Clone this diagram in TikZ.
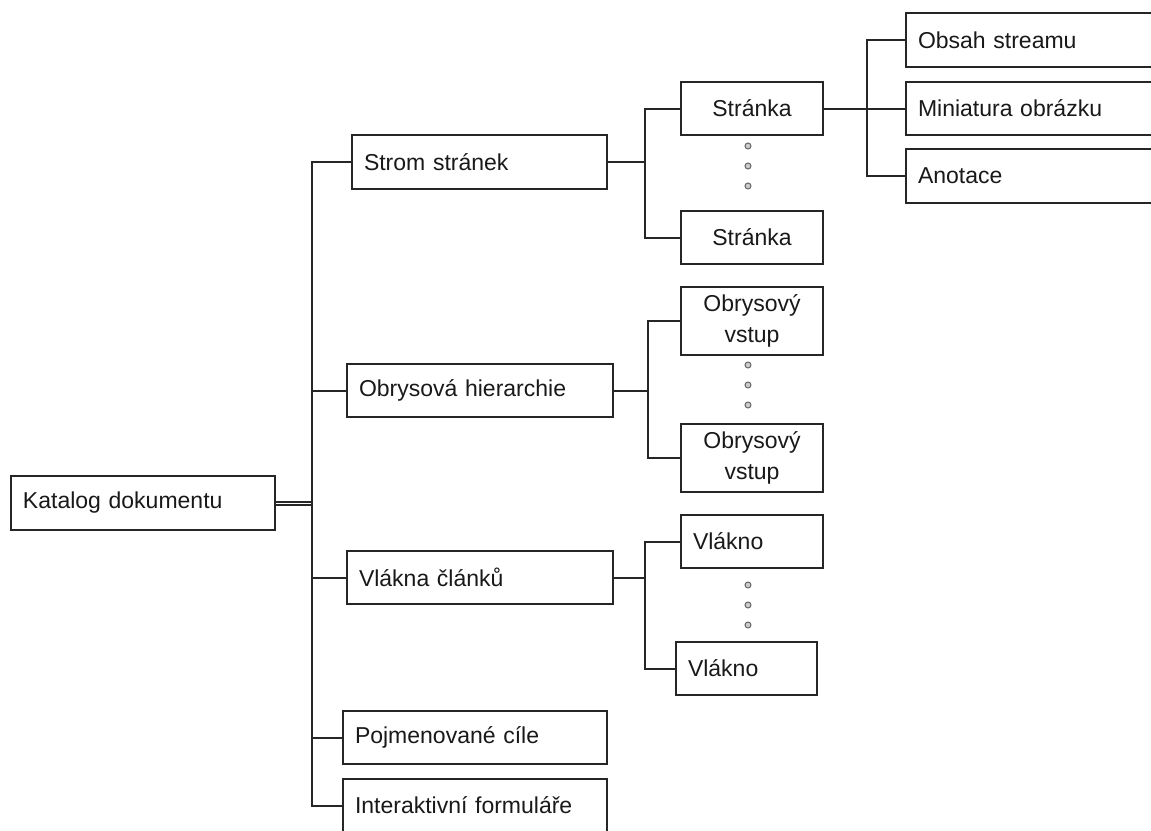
\documentclass[tikz,border=0pt]{standalone}
\usepackage{fontspec}
\setmainfont{Liberation Sans}
\usetikzlibrary{positioning}

\tikzset{
  box/.style={draw=black!85, line width=1pt, rectangle, minimum height=26.75pt, inner ysep=0pt,
    font=\fontsize{11.5}{13.5}\selectfont, text=black!90},
  lbox/.style={box, text width=#1, align=left, inner xsep=6pt},
  cbox/.style={box, minimum width=71pt, inner xsep=0pt, align=center},
  link/.style={draw=black!85, line width=1pt},
  dot/.style={circle, draw=black!60, fill=black!20, line width=0.5pt, inner sep=0pt, minimum size=3pt},
}

\begin{document}
\begin{tikzpicture}[x=0.5pt, y=-0.5pt]
            \clip (0,0) rectangle (1151,830);
            \fill[white] (0,0) rectangle (1151,830);
            \node[lbox=120pt] (katalog) at (143,503) {Katalog dokumentu};
            \node[lbox=115.5pt] (strom) at (479.5,162) {Strom stránek};
            \node[lbox=121pt] (obrys) at (480,390.5) {Obrysová hierarchie};
            \node[lbox=121pt] (vlakna) at (480,577.5) {Vlákna článků};
            \node[lbox=120pt] (cile) at (475,737.5) {Pojmenované cíle};
            \node[lbox=120pt] (formulare) at (475,805.5) {Interaktivní formuláře};
            \node[cbox] (strana1) at (752,108.5) {Stránka};
            \node[cbox] (strana2) at (752,237.5) {Stránka};
            \node[cbox, minimum height=34pt] (vstup1) at (752,321) {Obrysový\\[2pt]vstup};
            \node[cbox, minimum height=34pt] (vstup2) at (752,457.5) {Obrysový\\[2pt]vstup};
            \node[lbox=59pt] (vlakno1) at (752,541.5) {Vlákno};
            \node[lbox=58.5pt] (vlakno2) at (746.5,668.5) {Vlákno};
            \node[lbox=118pt] (stream) at (1036,40) {Obsah streamu};
            \node[lbox=118pt] (miniatura) at (1036,108.5) {Miniatura obrázku};
            \node[lbox=118pt] (anotace) at (1036,176) {Anotace};
            % three dots between the repeated children
            \foreach \y [count=\i] in {146,166,186,365,385,405,585,605,625}
                \node[dot] (tecka\i) at (748,\y) {};
            % main trunk
            \coordinate (hlavni) at (312,503);
            \draw[link] ([yshift=0.75pt]katalog.east) -| ([yshift=0.75pt]hlavni) |- (strom.west);
            \draw[link] ([yshift=-0.75pt]katalog.east) -| ([yshift=-0.75pt]hlavni) |- (formulare.west);
            \draw[link] (hlavni) |- (obrys.west);
            \draw[link] (hlavni) |- (vlakna.west);
            \draw[link] (hlavni) |- (cile.west);
            % subtrees
            \draw[link] (strom.east) -- ++(37,0) coordinate (strom-k) |- (strana1.west);
            \draw[link] (strom-k) |- (strana2.west);
            \draw[link] (obrys.east) -- ++(34,0) coordinate (obrys-k) |- (vstup1.west);
            \draw[link] (obrys-k) |- (vstup2.west);
            \draw[link] (vlakna.east) -- ++(31,0) coordinate (vlakna-k) |- (vlakno1.west);
            \draw[link] (vlakna-k) |- (vlakno2.west);
            \draw[link] (strana1.east) -- ++(43,0) coordinate (strana-k) |- (stream.west);
            \draw[link] (strana-k) |- (miniatura.west);
            \draw[link] (strana-k) |- (anotace.west);
\end{tikzpicture}
\end{document}
